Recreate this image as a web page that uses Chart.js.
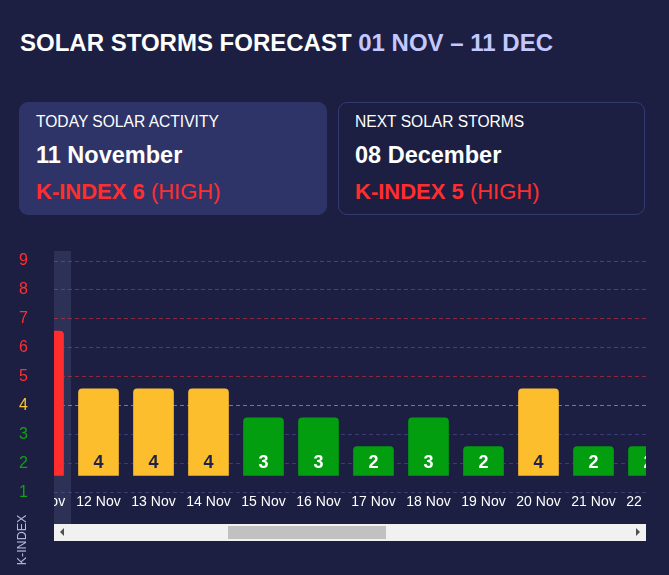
<!DOCTYPE html>
<html>
<head>
<meta charset="utf-8">
<script src="https://cdn.jsdelivr.net/npm/chart.js@4.4.1/dist/chart.umd.min.js"></script>
<style>
html,body{margin:0;padding:0;background:#1c1f42;width:669px;height:575px;overflow:hidden;font-family:"Liberation Sans",Arial,sans-serif;}
#title{position:absolute;left:20px;top:30px;font-size:24px;font-weight:bold;color:#fff;line-height:26px;white-space:nowrap;}
#title span{color:#c3c8ff;}
.card{position:absolute;top:102px;height:113px;box-sizing:border-box;border-radius:9px;border:1px solid #333a70;}
#c1{left:19px;width:308px;background:#2f3468;border-color:#2f3468;}
#c2{left:338px;width:307px;}
.l1{position:absolute;left:16px;top:10px;font-size:15.6px;color:#fff;line-height:18px;white-space:nowrap;}
.l2{position:absolute;left:16px;top:38px;font-size:23.5px;font-weight:bold;color:#fff;line-height:28px;white-space:nowrap;}
.l3{position:absolute;left:16px;top:76px;font-size:22px;color:#ff2e2e;line-height:26px;white-space:nowrap;}
.l3 b{font-weight:bold;}
#yaxis{position:absolute;left:0;top:251px;}
#scroller{position:absolute;left:54px;top:251px;width:592px;height:273px;overflow:hidden;}
#inner{width:2090px;height:273px;}
#klabel{position:absolute;left:-8px;top:532px;width:60px;height:16px;line-height:16px;text-align:center;font-size:12.5px;color:#b4b9de;transform:rotate(-90deg);}
#sbar{position:absolute;left:54px;top:524px;width:592px;height:17px;background:#f1f1f1;}
#thumb{position:absolute;top:2px;height:13px;background:#c1c1c1;}
.arr{position:absolute;top:4px;width:0;height:0;border-top:4px solid transparent;border-bottom:4px solid transparent;}
#al{left:6px;border-right:4px solid #505050;}
#ar{right:6px;border-left:4px solid #505050;}
</style>
</head>
<body>
<div id="title">SOLAR STORMS FORECAST <span>01 NOV – 11 DEC</span></div>
<div class="card" id="c1">
  <div class="l1">TODAY SOLAR ACTIVITY</div>
  <div class="l2">11 November</div>
  <div class="l3"><b>K-INDEX 6</b> (HIGH)</div>
</div>
<div class="card" id="c2">
  <div class="l1">NEXT SOLAR STORMS</div>
  <div class="l2">08 December</div>
  <div class="l3"><b>K-INDEX 5</b> (HIGH)</div>
</div>
<canvas id="yaxis" width="54" height="273"></canvas>
<div id="scroller"><div id="inner"><canvas id="main" width="2090" height="273"></canvas></div></div>
<div id="sbar"><div class="arr" id="al"></div><div id="thumb"></div><div class="arr" id="ar"></div></div>
<div id="klabel">K-INDEX</div>
<script>
const labels = ["01 Nov","02 Nov","03 Nov","04 Nov","05 Nov","06 Nov","07 Nov","08 Nov","09 Nov","10 Nov",
  "11 Nov","12 Nov","13 Nov","14 Nov","15 Nov","16 Nov","17 Nov","18 Nov","19 Nov","20 Nov",
  "21 Nov","22 Nov","23 Nov","24 Nov","25 Nov","26 Nov","27 Nov","28 Nov","29 Nov","30 Nov",
  "01 Dec","02 Dec","03 Dec","04 Dec","05 Dec","06 Dec","07 Dec","08 Dec"];
const kIndex = [2,3,3,2,4,5,3,2,3,4,
  6,4,4,4,3,3,2,3,2,4,
  2,2,3,2,3,4,3,2,2,3,
  4,3,2,3,2,3,4,5];
const yTicks = [1,2,3,4,5,6,7,8,9];
const todayIndex = 10;

Chart.defaults.font.family = '"Liberation Sans", Arial, sans-serif';

function barColor(v){ return v >= 5 ? '#ff2d2d' : (v === 4 ? '#fdbe2e' : '#029e0f'); }
function tickColor(v){ return v >= 5 ? '#ff3030' : (v === 4 ? '#ffc12e' : '#12a014'); }
function gridColor(v){ return v >= 5 ? 'rgba(230,50,60,0.55)' : (v === 4 ? 'rgba(220,180,90,0.6)' : 'rgba(80,88,160,0.55)'); }

const highlight = {
  id:'highlight',
  beforeDraw(chart){
    const x = chart.scales.x, ctx = chart.ctx;
    const w = x.getPixelForValue(1) - x.getPixelForValue(0);
    const cx = x.getPixelForValue(todayIndex);
    ctx.save();
    ctx.fillStyle = '#2e3156';
    ctx.fillRect(cx - w/2, 0, w, chart.height);
    ctx.restore();
  }
};
const valueLabels = {
  id:'valueLabels',
  afterDatasetsDraw(chart){
    const ctx = chart.ctx;
    const meta = chart.getDatasetMeta(0);
    ctx.save();
    ctx.font = 'bold 18px "Liberation Sans", Arial, sans-serif';
    ctx.textAlign = 'center';
    ctx.textBaseline = 'middle';
    meta.data.forEach((bar, i) => {
      const v = kIndex[i];
      ctx.fillStyle = v === 4 ? '#1f2247' : '#ffffff';
      ctx.fillText(String(v), bar.x, bar.base - 12);
    });
    ctx.restore();
  }
};

const mainChart = new Chart(document.getElementById('main'), {
  type:'bar',
  data:{
    labels: labels,
    datasets:[{
      data: kIndex,
      yAxisID:'yb',
      base: 1,
      backgroundColor: c => barColor(c.raw),
      borderRadius: 4,
      barThickness: 40
    }]
  },
  options:{
    responsive:false,
    animation:false,
    layout:{padding:{top:10,left:0,right:0,bottom:0}},
    plugins:{legend:{display:false}, tooltip:{enabled:false}},
    scales:{
      x:{
        grid:{display:false, drawTicks:false},
        border:{display:false},
        ticks:{color:'#ffffff', font:{size:14}, padding:1, autoSkip:false, maxRotation:0},
        afterFit: a => { a.height = 31.7; }
      },
      y:{
        min:1, max:9,
        afterBuildTicks: a => { a.ticks = yTicks.map(v => ({value:v})); },
        ticks:{display:false},
        grid:{color: c => gridColor(c.tick.value), drawTicks:false, lineWidth:1},
        border:{display:false, dash:[4,3]},
        afterFit: a => { a.width = 0; }
      },
      yb:{display:false, min:0.42, max:8.42}
    }
  },
  plugins:[highlight, valueLabels]
});

new Chart(document.getElementById('yaxis'), {
  type:'bar',
  data:{labels:[''], datasets:[{data:[]}]},
  options:{
    responsive:false,
    animation:false,
    layout:{padding:{top:10,bottom:0,left:0,right:0}},
    plugins:{legend:{display:false}, tooltip:{enabled:false}},
    scales:{
      x:{
        grid:{display:false, drawTicks:false},
        border:{display:false},
        ticks:{color:'rgba(0,0,0,0)', font:{size:14}, padding:1},
        afterFit: a => { a.height = 31.7; a.paddingLeft = 0; a.paddingRight = 0; }
      },
      y:{
        min:1, max:9,
        afterBuildTicks: a => { a.ticks = yTicks.map(v => ({value:v})); },
        ticks:{color: c => tickColor(c.tick.value), font:{size:16}, padding:22},
        grid:{display:false, drawTicks:false},
        border:{display:false},
        afterFit: a => { a.width = 50; a.paddingTop = 0; a.paddingBottom = 0; }
      }
    }
  }
});

// scroll position and matching scrollbar thumb
const scroller = document.getElementById('scroller');
scroller.scrollLeft = 588;
const trackStart = 17, trackLen = 592 - 34;
const contentW = document.getElementById('inner').offsetWidth;
const thumbLen = trackLen * 592 / contentW;
const thumb = document.getElementById('thumb');
thumb.style.width = thumbLen + 'px';
thumb.style.left = (trackStart + (trackLen - thumbLen) * scroller.scrollLeft / (contentW - 592)) + 'px';
</script>
</body>
</html>
